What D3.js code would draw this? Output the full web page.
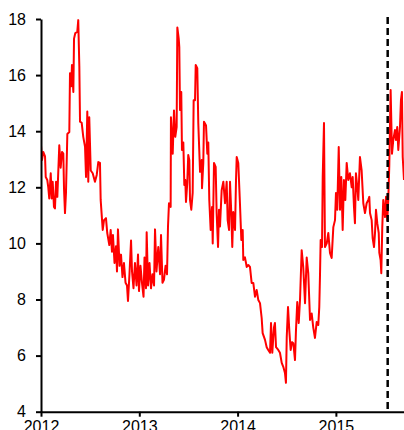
<!DOCTYPE html>
<html><head><meta charset="utf-8">
<script src="https://cdn.jsdelivr.net/npm/d3@7"></script>
<style>body{margin:0;background:#fff;overflow:hidden} svg{display:block}</style>
</head><body>
<script>
// decimal year of each observation
const years = [
2012.000,2012.010,2012.023,2012.041,2012.048,2012.064,2012.074,2012.084,2012.099,2012.109,
2012.119,2012.132,2012.142,2012.153,2012.166,2012.186,2012.200,2012.214,2012.227,2012.234,
2012.244,2012.254,2012.268,2012.288,2012.295,2012.308,2012.315,2012.329,2012.336,2012.349,
2012.369,2012.379,2012.390,2012.397,2012.414,2012.430,2012.448,2012.458,2012.471,2012.481,
2012.491,2012.506,2012.526,2012.549,2012.567,2012.583,2012.600,2012.607,2012.628,2012.641,
2012.661,2012.674,2012.695,2012.709,
2012.722,2012.732,2012.748,2012.763,2012.773,2012.783,2012.799,2012.814,2012.829,2012.844,
2012.860,2012.875,2012.885,2012.900,2012.916,2012.926,2012.941,2012.956,2012.972,2012.987,
2012.997,2013.012,2013.027,2013.043,2013.053,2013.068,2013.075,2013.089,2013.104,2013.119,
2013.134,2013.150,2013.160,2013.175,2013.193,2013.211,2013.221,2013.236,2013.251,2013.267,
2013.282,2013.292,2013.302,2013.319,
2013.322,2013.340,2013.353,2013.366,2013.380,2013.387,2013.401,2013.407,2013.414,2013.427,
2013.434,2013.448,2013.458,2013.468,2013.475,2013.488,2013.498,2013.509,2013.516,2013.529,
2013.543,2013.553,2013.567,2013.574,2013.590,2013.600,2013.618,2013.635,2013.638,2013.651,
2013.658,2013.679,2013.692,2013.702,2013.712,2013.726,2013.740,2013.747,2013.760,2013.777,
2013.787,2013.801,2013.811,2013.821,2013.838,2013.855,2013.872,2013.889,2013.899,2013.913,
2013.923,2013.936,2013.946,2013.956,2013.974,2013.984,2013.991,2014.007,2014.024,2014.038,
2014.052,
2014.058,2014.075,2014.093,2014.109,2014.126,2014.143,2014.160,2014.177,2014.194,2014.211,
2014.228,2014.245,2014.255,2014.279,2014.296,2014.312,2014.330,2014.340,2014.353,2014.370,
2014.380,2014.391,2014.414,2014.431,2014.449,2014.465,2014.482,2014.492,2014.500,2014.513,
2014.526,2014.540,2014.553,2014.567,2014.584,2014.594,2014.607,2014.622,2014.635,2014.652,
2014.668,2014.686,2014.703,2014.719,2014.737,2014.754,2014.770,2014.787,2014.805,2014.821,
2014.831,2014.838,2014.845,2014.859,2014.866,2014.879,2014.889,2014.907,2014.923,2014.940,
2014.957,2014.974,2014.991,2015.001,2015.014,2015.029,2015.042,2015.055,2015.069,2015.082,
2015.096,2015.110,2015.126,2015.143,2015.161,2015.171,2015.184,2015.194,2015.204,2015.218,
2015.228,2015.245,2015.262,2015.279,2015.296,2015.313,2015.330,2015.340,2015.347,2015.364,
2015.374,2015.388,2015.398,2015.408,2015.421,2015.436,2015.442,2015.455,2015.462,2015.472,
2015.482,2015.500,2015.510,2015.523,2015.533,2015.543,2015.557,2015.571,2015.584,2015.601,
2015.611,2015.624,2015.635,2015.652,2015.662,2015.672,2015.680,2015.693
];
const values = [
13.5,12.97,13.26,13.1,12.37,12.26,12.0,11.6,12.5,11.6,
12.2,11.3,11.25,12.2,11.66,13.5,12.7,13.26,13.2,11.97,
11.08,11.8,13.9,13.97,16.07,15.6,16.36,15.4,17.3,17.5,
17.54,17.96,16.3,14.34,14.3,13.8,13.44,12.37,14.7,12.2,
14.5,12.6,12.5,12.2,12.44,12.9,12.87,11.55,10.48,10.83,
10.9,10.37,9.94,10.48,
9.7,10.3,9.3,9.9,9.0,10.5,9.2,9.6,8.8,9.3,
8.6,8.5,7.95,8.9,10.1,9.0,8.4,9.3,8.5,9.6,
8.3,9.2,8.6,8.1,9.5,8.4,10.4,8.5,9.3,8.4,
8.9,8.5,10.5,9.0,9.87,8.9,10.3,8.6,8.7,9.2,
8.9,10.6,11.43,11.3,
14.5,13.2,14.74,13.8,14.15,17.7,17.3,17.0,14.76,15.4,
13.33,13.6,12.08,12.26,11.48,12.15,13.15,12.97,11.55,11.2,
11.8,15.1,15.1,16.36,16.25,14.3,12.55,12.97,11.97,12.87,
14.34,14.2,13.2,13.6,11.55,10.48,11.3,10.0,12.87,12.73,
11.08,9.87,11.2,10.6,11.9,12.2,11.43,12.2,10.83,10.48,
12.2,11.08,9.87,11.12,10.48,12.26,13.08,12.87,11.43,10.12,
10.48,
9.41,9.5,9.16,9.23,9.16,8.59,8.59,8.1,8.34,7.98,
7.87,7.34,6.8,6.56,6.3,6.2,6.1,7.16,6.1,7.0,
7.16,6.3,6.2,6.1,5.74,5.6,5.38,5.03,6.66,7.73,
6.9,6.2,6.48,6.44,5.84,6.9,7.91,7.16,7.98,9.76,
9.16,7.87,9.5,8.94,7.27,7.5,7.0,6.63,7.2,7.09,
7.73,8.8,10.12,9.87,12.37,14.29,9.87,10.0,10.37,9.66,
9.48,10.58,10.83,11.8,11.2,13.44,11.2,12.37,10.48,12.26,
11.55,12.87,12.26,12.5,12.0,12.37,11.3,10.72,12.5,12.0,
11.55,13.08,12.6,11.43,11.08,11.43,11.55,11.66,11.08,10.83,
10.19,9.87,10.37,11.2,10.72,10.37,9.66,9.41,8.94,10.58,
11.55,10.94,11.66,10.83,11.55,12.73,15.47,13.2,13.69,14.04,
13.69,14.15,13.33,14.15,15.11,15.4,13.08,12.26
];
const yTicks = [4, 6, 8, 10, 12, 14, 16, 18];
const xTicks = [2012, 2013, 2014, 2015];
const eventYear = [2015.527];

const W = 404, H = 430;
const svg = d3.select("body").append("svg").attr("width", W).attr("height", H)
  .style("font-family", "'Liberation Sans', Arial, sans-serif");

const x = d3.scaleLinear().domain([2012, 2015.693]).range([41, 404]);
const y = d3.scaleLinear().domain([4, 18]).range([411.7, 19]);

svg.append("defs").append("clipPath").attr("id", "clip")
  .append("rect").attr("x", 41).attr("y", 0).attr("width", W - 41).attr("height", 412);

const data = years.map((t, i) => ({t, v: values[i]}));
const line = d3.line().x(d => x(d.t)).y(d => y(d.v));

svg.append("path").datum(data)
  .attr("clip-path", "url(#clip)")
  .attr("fill", "none").attr("stroke", "#ff0000").attr("stroke-width", 2)
  .attr("stroke-linejoin", "round")
  .attr("d", line);

svg.selectAll("line.event").data(eventYear).enter().append("line")
  .attr("class", "event")
  .attr("x1", d => x(d)).attr("x2", d => x(d))
  .attr("y1", y(18) - 2).attr("y2", y(4))
  .attr("stroke", "#000").attr("stroke-width", 2.5)
  .attr("stroke-dasharray", "7,4");

const yAxis = svg.append("g").attr("transform", `translate(${x(2012)},0)`)
  .call(d3.axisLeft(y).tickValues(yTicks).tickSize(5).tickPadding(10).tickSizeOuter(0));
const xAxis = svg.append("g").attr("transform", `translate(0,${y(4)})`)
  .call(d3.axisBottom(x).tickValues(xTicks).tickFormat(d3.format("d")).tickSize(5).tickPadding(4).tickSizeOuter(0));

[yAxis, xAxis].forEach(g => {
  g.select(".domain").attr("stroke", "#000").attr("stroke-width", 2);
  g.selectAll(".tick line").attr("stroke", "#000").attr("stroke-width", 2);
  g.selectAll(".tick text").attr("fill", "#000").style("font-size", "16px")
    .style("font-family", "'Liberation Sans', Arial, sans-serif");
});
</script>
</body></html>
